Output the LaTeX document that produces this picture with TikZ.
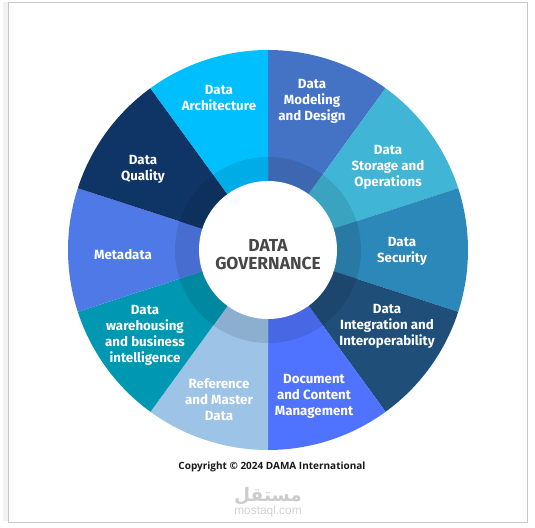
\documentclass[tikz,border=0pt]{standalone}
\usepackage{fontspec}
\setmainfont{Fira Sans}
\newfontfamily\copyfont{Open Sans}
\newfontfamily\wmfont{Liberation Sans}
\newfontfamily\arabicfont[Script=Arabic]{DejaVu Sans}
\TeXXeTstate=1
\definecolor{archblue}{HTML}{00BFFF}
\definecolor{modelblue}{HTML}{4472C4}
\definecolor{storeblue}{HTML}{40B5D5}
\definecolor{secblue}{HTML}{2C88B8}
\definecolor{integblue}{HTML}{1F4E79}
\definecolor{docblue}{HTML}{4F72FF}
\definecolor{refblue}{HTML}{9DC3E6}
\definecolor{wareblue}{HTML}{0097B2}
\definecolor{metablue}{HTML}{5079E8}
\definecolor{qualblue}{HTML}{0F3566}
\tikzset{
  seglabel/.style={text=white, align=center, font=\fontsize{13.3}{16}\selectfont\bfseries},
}
\begin{document}
\begin{tikzpicture}[x=1pt,y=1pt]
    \useasboundingbox (-268,-277) rectangle (267,250);
    % page frame
    \fill[black!5] (-265,-271) rectangle (-260,248);
    \draw[black!22, line width=0.8pt] (-260,248) rectangle (259,-272);
    % wheel, clockwise from the top
    \foreach \a/\col in {90/modelblue, 54/storeblue, 18/secblue, -18/integblue, -54/docblue,
        -90/refblue, -126/wareblue, -162/metablue, -198/qualblue, -234/archblue} {
        \pgfmathsetmacro{\b}{\a-36}
        \fill[\col] (0,0) -- (\a:200) arc[start angle=\a, end angle=\b, radius=200] -- cycle;
        \fill[\col!90!black] (0,0) -- (\a:93) arc[start angle=\a, end angle=\b, radius=93] -- cycle;
    }
    \node[circle, fill=white, minimum size=138pt, inner sep=0pt] (hub) at (0,0) {};
    \node[align=center, text=black!72, font=\fontsize{17.4}{18}\selectfont\bfseries] (hubtext) at (0,-5) {DATA\\GOVERNANCE};
    \node[seglabel] (arch) at (-49,152) {Data\\Architecture};
    \node[seglabel] (model) at (44,149) {Data\\Modeling\\and Design};
    \node[seglabel] (store) at (120,83) {Data\\Storage and\\Operations};
    \node[seglabel] (sec) at (134,-1) {Data\\Security};
    \node[seglabel] (integ) at (119,-76) {Data\\Integration and\\Interoperability};
    \node[seglabel] (doc) at (46,-146) {Document\\and Content\\Management};
    \node[seglabel] (ref) at (-49,-150) {Reference\\and Master\\Data};
    \node[seglabel] (ware) at (-123,-85) {Data\\warehousing\\and business\\intelligence};
    \node[seglabel] (meta) at (-145,-5) {Metadata};
    \node[seglabel] (qual) at (-125,81) {Data\\Quality};
    \node[font=\copyfont\fontsize{10}{12}\selectfont\bfseries, text=black!90] (copy) at (4,-216.5) {Copyright © 2024 DAMA International};
    % watermark
    \node[font=\arabicfont\fontsize{18.5}{22}\selectfont\bfseries, text=black!20] (wmar) at (0,-246.5) {\beginR مستقل\endR};
    \node[font=\wmfont\fontsize{11.9}{13}\selectfont, text=black!18] (wmen) at (0,-261.5) {mostaql.com};
\end{tikzpicture}
\end{document}
